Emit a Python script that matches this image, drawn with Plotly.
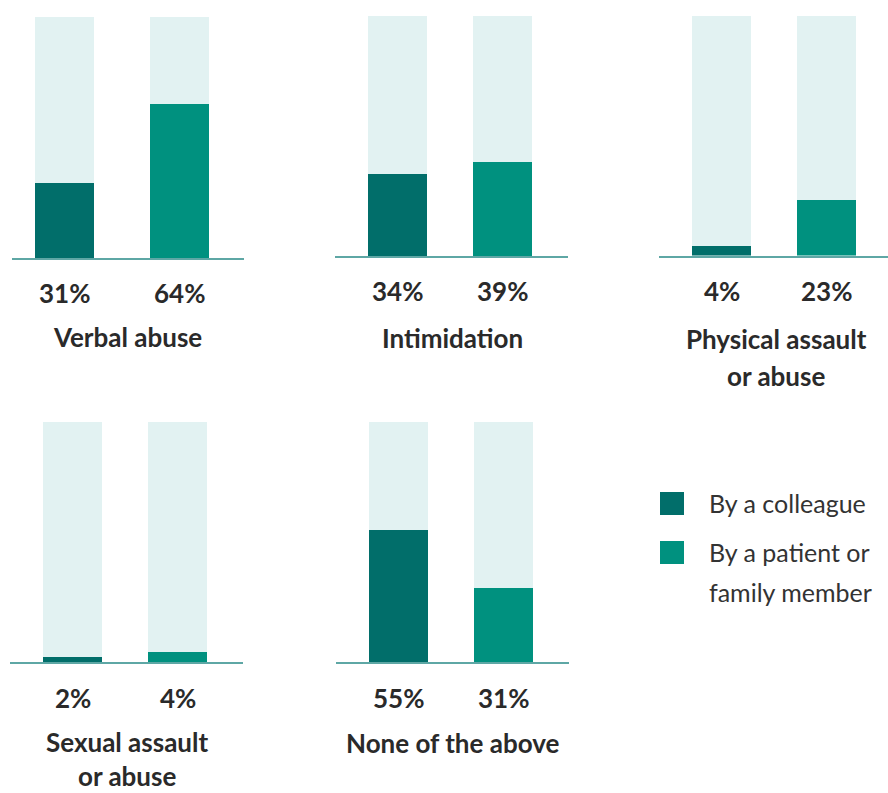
import plotly.graph_objects as go

W, H = 888, 793

# --- data -------------------------------------------------------------
categories = [
    "Verbal abuse",
    "Intimidation",
    "Physical assault\nor abuse",
    "Sexual assault\nor abuse",
    "None of the above",
]
by_colleague = [31, 34, 4, 2, 55]
by_patient = [64, 39, 23, 4, 31]
series_names = ["By a colleague", "By a patient or\nfamily member"]

# --- styling ----------------------------------------------------------
C_COLLEAGUE = "#016e6a"
C_PATIENT = "#00917f"
C_TRACK = "#e2f2f2"
C_BASE = "#5ea7a5"
C_TEXT = "#2a2a2a"
FONT = "Lato"

# panel geometry in pixels: axis line span, first bar centre, bar spacing,
# plot top / baseline, value-label row, category-label row and centre
panels = [
    dict(x0=12, x1=244, c0=64.5, step=115, top=17, base=258, val_y=293, cat_y=337, cat_x=127, gap=37),
    dict(x0=335, x1=568, c0=397.5, step=105, top=16, base=256, val_y=291, cat_y=338, cat_x=452, gap=37),
    dict(x0=659, x1=888, c0=721.5, step=105, top=16, base=255.5, val_y=291, cat_y=339, cat_x=776, gap=37),
    dict(x0=10, x1=243, c0=72.5, step=105, top=422, base=662, val_y=698, cat_y=742, cat_x=127, gap=34),
    dict(x0=336, x1=569, c0=398.5, step=105, top=422, base=662, val_y=698, cat_y=743, cat_x=453, gap=37),
]
BAR_PX = 59


def px_x(x):
    return x / W


def px_y(y):
    return 1 - y / H


fig = go.Figure()
annotations = []
layout_axes = {}

for i, p in enumerate(panels):
    sfx = "" if i == 0 else str(i + 1)
    xa, ya = "x" + sfx, "y" + sfx
    width = BAR_PX / p["step"]

    # full-height track behind each pair of bars
    fig.add_trace(go.Bar(x=[0, 1], y=[100, 100], width=width, marker_color=C_TRACK,
                         marker_line_width=0, xaxis=xa, yaxis=ya, showlegend=False,
                         hoverinfo="skip"))
    fig.add_trace(go.Bar(x=[0], y=[by_colleague[i]], width=width, marker_color=C_COLLEAGUE,
                         marker_line_width=0, xaxis=xa, yaxis=ya, showlegend=False,
                         name=series_names[0].replace("\n", " ")))
    fig.add_trace(go.Bar(x=[1], y=[by_patient[i]], width=width, marker_color=C_PATIENT,
                         marker_line_width=0, xaxis=xa, yaxis=ya, showlegend=False,
                         name=series_names[1].replace("\n", " ")))

    layout_axes["xaxis" + sfx] = dict(
        domain=[px_x(p["x0"]), px_x(p["x1"])],
        range=[(p["x0"] - p["c0"]) / p["step"], (p["x1"] - p["c0"]) / p["step"]],
        anchor=ya, showgrid=False, zeroline=False, showticklabels=False, ticks="",
        showline=True, linecolor=C_BASE, linewidth=1.5, fixedrange=True,
    )
    layout_axes["yaxis" + sfx] = dict(
        domain=[px_y(p["base"]), px_y(p["top"])], range=[0, 100],
        anchor=xa, showgrid=False, zeroline=False, showticklabels=False, ticks="",
        showline=False, fixedrange=True,
    )

    # value labels under each bar
    for j, v in enumerate([by_colleague[i], by_patient[i]]):
        annotations.append(dict(
            xref=xa, yref="paper", x=j, y=px_y(p["val_y"]),
            text=f"<b>{v}%</b>", showarrow=False, xanchor="center", yanchor="middle",
            font=dict(family=FONT, size=26, color=C_TEXT),
        ))
    # category label, possibly on two lines
    for k, line in enumerate(categories[i].split("\n")):
        annotations.append(dict(
            xref="paper", yref="paper", x=px_x(p["cat_x"]), y=px_y(p["cat_y"] + k * p["gap"]),
            text=f"<b>{line}</b>", showarrow=False, xanchor="center", yanchor="middle",
            font=dict(family=FONT, size=26, color=C_TEXT),
        ))

# legend drawn as swatches plus text
shapes = []
legend_rows = [(503, C_COLLEAGUE), (552, C_PATIENT)]
for (cy, col), name in zip(legend_rows, series_names):
    shapes.append(dict(type="rect", xref="paper", yref="paper",
                       x0=px_x(660), x1=px_x(684), y0=px_y(cy + 12), y1=px_y(cy - 11),
                       fillcolor=col, line_width=0))
    for k, line in enumerate(name.split("\n")):
        annotations.append(dict(
            xref="paper", yref="paper", x=px_x(707), y=px_y(cy + k * 40),
            text=line, showarrow=False, xanchor="left", yanchor="middle",
            font=dict(family=FONT, size=25, color="#333333"),
        ))

fig.update_layout(
    width=W, height=H,
    margin=dict(l=0, r=0, t=0, b=0),
    paper_bgcolor="white", plot_bgcolor="white",
    barmode="overlay", bargap=0,
    showlegend=False,
    annotations=annotations,
    shapes=shapes,
    **layout_axes,
)

fig.write_html("out.html", config={"displayModeBar": False})
